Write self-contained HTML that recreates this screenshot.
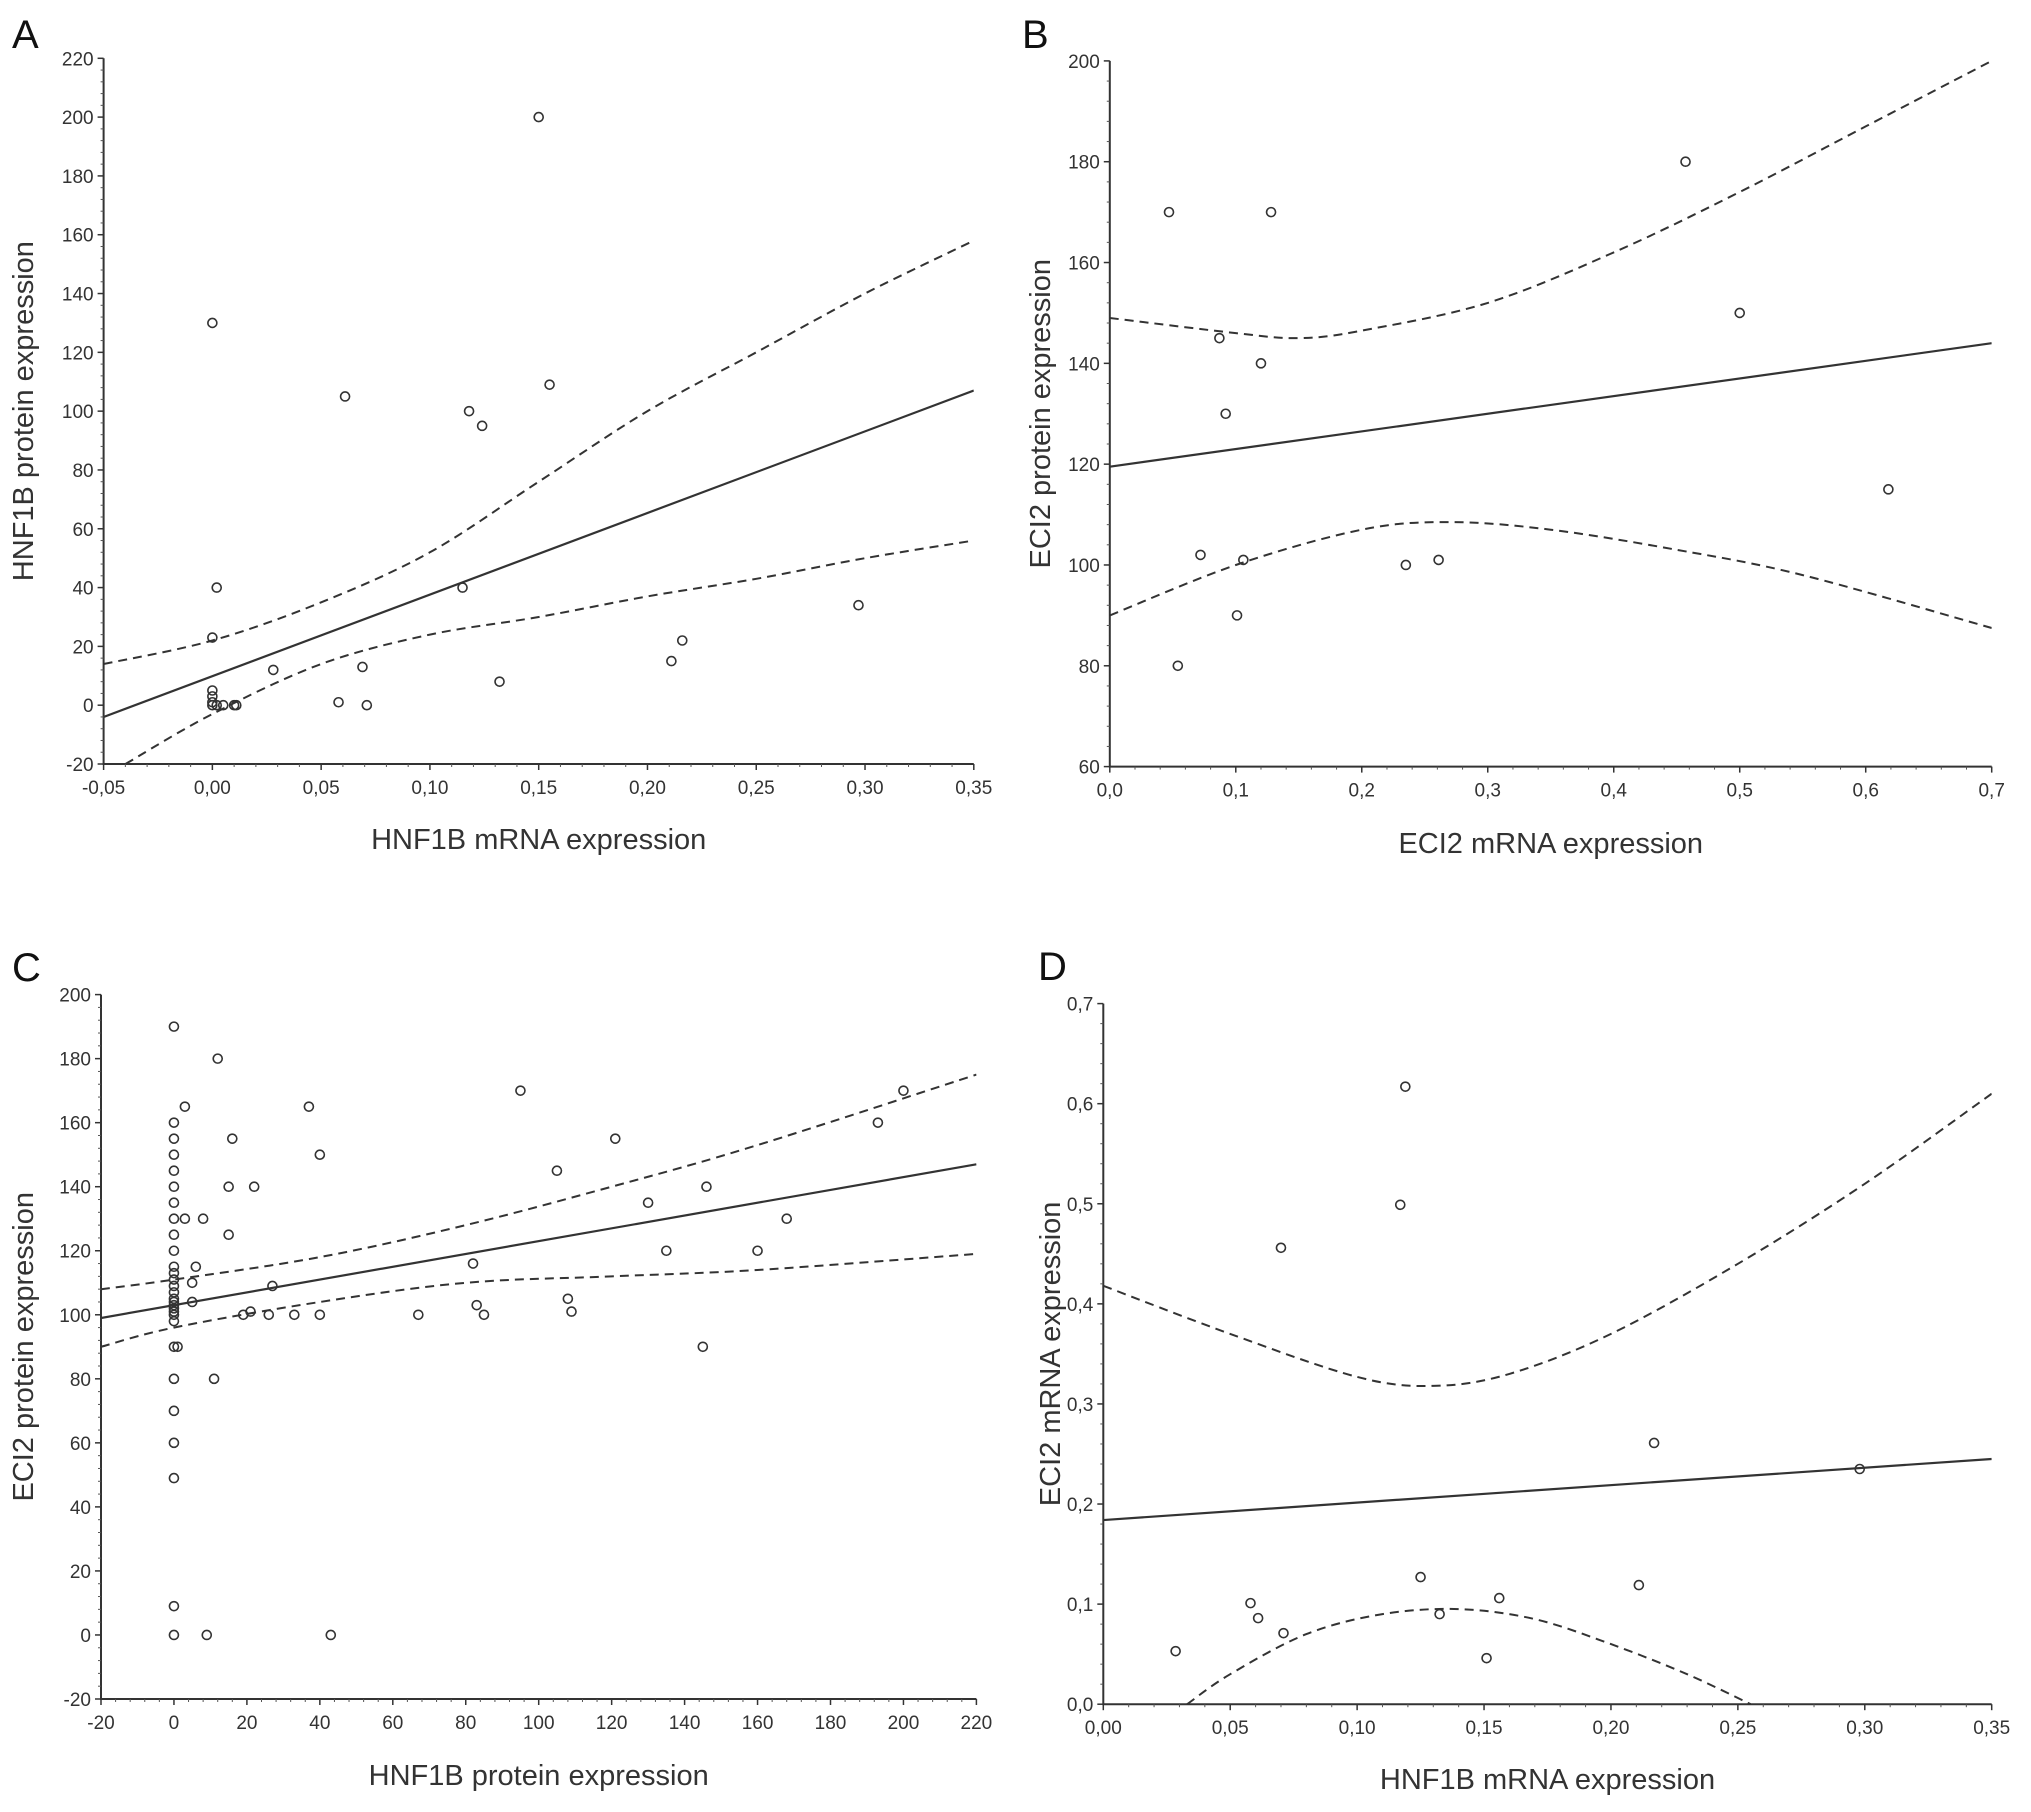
<!DOCTYPE html>
<html><head><meta charset="utf-8"><style>
html,body{margin:0;padding:0;background:#fff;}
svg{display:block;font-family:"Liberation Sans",sans-serif;}
</style></head><body>
<svg id="fig" width="2031" height="1812" viewBox="0 0 2031 1812"></svg>
<script>
// Panel A data
const aX=[0.15,0.0,0.061,0.155,0.118,0.124,0.115,0.002,0.0,0.028,0.069,0.058,0.071,0.132,0.211,0.216,0.297,0,0,0,0,0.002,0.005,0.01,0.011];
const aY=[200,130,105,109,100,95,40,40,23,12,13,1,0,8,15,22,34,5,3,1,0,0,0,0,0];
const aFit=[[-0.05,-4],[0.35,107]];
const aUpX=[-0.05,0,0.05,0.1,0.15,0.2,0.25,0.3,0.35];
const aUpY=[14,22,35,52,76,100,120,140,158];
const aLoX=[-0.04,0,0.05,0.1,0.15,0.2,0.25,0.3,0.35];
const aLoY=[-20,-3,14,24,30,37,43,50,56];
const aXTicks=["-0,05","0,00","0,05","0,10","0,15","0,20","0,25","0,30","0,35"];
const aYTicks=["-20","0","20","40","60","80","100","120","140","160","180","200","220"];
// Panel B data
const bX=[0.047,0.128,0.457,0.087,0.12,0.092,0.5,0.618,0.072,0.106,0.235,0.261,0.101,0.054];
const bY=[170,170,180,145,140,130,150,115,102,101,100,101,90,80];
const bFit=[[0,119.5],[0.7,144]];
const bUpX=[0,0.1,0.15,0.2,0.3,0.4,0.5,0.6,0.7];
const bUpY=[149,146,145,146.5,152,162,174,187,200];
const bLoX=[0,0.1,0.2,0.27,0.35,0.45,0.55,0.7];
const bLoY=[90,100,107,108.5,107,103,98,87.5];
const bXTicks=["0,0","0,1","0,2","0,3","0,4","0,5","0,6","0,7"];
const bYTicks=["60","80","100","120","140","160","180","200"];
// Panel C data
const cX=[0,0,0,0,0,0,0,0,0,0,0,0,0,0,0,0,0,0,0,0,0,0,0,0,0,0,0,0,0,1,12,3,8,3,16,15,15,6,5,5,11,9,22,37,40,27,19,21,26,33,40,43,67,82,83,85,95,105,108,109,121,130,135,146,145,160,168,193,200];
const cY=[190,160,155,150,145,140,135,130,125,120,115,113,111,109,107,105,104,103,102,101,100,98,90,80,70,60,49,9,0,90,180,165,130,130,155,140,125,115,110,104,80,0,140,165,150,109,100,101,100,100,100,0,100,116,103,100,170,145,105,101,155,135,120,140,90,120,130,160,170];
const cFit=[[-20,99],[220,147]];
const cUpX=[-20,0,40,80,120,160,220];
const cUpY=[108,111,118,128,140,153,175];
const cLoX=[-20,0,40,80,120,160,220];
const cLoY=[90,96,104,110,112,114,119];
const cXTicks=["-20","0","20","40","60","80","100","120","140","160","180","200","220"];
const cYTicks=["-20","0","20","40","60","80","100","120","140","160","180","200"];
// Panel D data
const dX=[0.0285,0.058,0.061,0.071,0.070,0.117,0.119,0.125,0.1325,0.151,0.156,0.211,0.217,0.298];
const dY=[0.053,0.101,0.086,0.071,0.456,0.499,0.617,0.127,0.090,0.046,0.106,0.119,0.261,0.235];
const dFit=[[0,0.184],[0.35,0.245]];
const dUpX=[0,0.05,0.1,0.13,0.16,0.2,0.25,0.3,0.35];
const dUpY=[0.418,0.37,0.327,0.318,0.33,0.37,0.44,0.52,0.61];
const dLoX=[0.033,0.05,0.08,0.11,0.14,0.17,0.2,0.23,0.255];
const dLoY=[0,0.03,0.07,0.09,0.095,0.085,0.06,0.03,0];
const dXTicks=["0,00","0,05","0,10","0,15","0,20","0,25","0,30","0,35"];
const dYTicks=["0,0","0,1","0,2","0,3","0,4","0,5","0,6","0,7"];

const NS="http://www.w3.org/2000/svg";
const svg=document.getElementById('fig');
function mk(tag,attrs,parent,text){const e=document.createElementNS(NS,tag);for(const k in attrs)e.setAttribute(k,attrs[k]);if(text!==undefined)e.textContent=text;parent.appendChild(e);return e;}
const num=s=>parseFloat(s.replace(',','.'));
function smooth(pts){
  let d='M'+pts[0][0].toFixed(1)+','+pts[0][1].toFixed(1);
  for(let i=0;i<pts.length-1;i++){
    const p0=pts[Math.max(0,i-1)],p1=pts[i],p2=pts[i+1],p3=pts[Math.min(pts.length-1,i+2)];
    const c1=[p1[0]+(p2[0]-p0[0])/6,p1[1]+(p2[1]-p0[1])/6];
    const c2=[p2[0]-(p3[0]-p1[0])/6,p2[1]-(p3[1]-p1[1])/6];
    d+=`C${c1[0].toFixed(1)},${c1[1].toFixed(1)} ${c2[0].toFixed(1)},${c2[1].toFixed(1)} ${p2[0].toFixed(1)},${p2[1].toFixed(1)}`;
  }
  return d;
}

function panel(cfg){
  const g=mk('g',{},svg);
  
  
  const xmin=num(cfg.xt[0]),xmax=num(cfg.xt[cfg.xt.length-1]);
  const ymin=num(cfg.yt[0]),ymax=num(cfg.yt[cfg.yt.length-1]);
  const sx=v=>cfg.x0+(v-xmin)/(xmax-xmin)*(cfg.x1-cfg.x0);
  const sy=v=>cfg.y0-(v-ymin)/(ymax-ymin)*(cfg.y0-cfg.y1);
  const ax=mk('path',{d:`M${cfg.x0},${cfg.y1}V${cfg.y0}H${cfg.x1}`,fill:'none',stroke:'#333','stroke-width':2},g);
  
  
  cfg.xt.forEach((t,i)=>{
    const x=sx(num(t));
    mk('line',{x1:x,x2:x,y1:cfg.y0,y2:cfg.y0+6,stroke:'#333','stroke-width':1.5},g);
    if(i<cfg.xt.length-1){for(let k=1;k<5;k++){const xm=sx(num(t)+(num(cfg.xt[i+1])-num(t))*k/5);mk('line',{x1:xm,x2:xm,y1:cfg.y0,y2:cfg.y0+3,stroke:'#555','stroke-width':1},g);}}
    const tl=mk('text',{x:x,y:cfg.y0+30,'text-anchor':'middle','font-size':19,fill:'#333'},g,t);
    
    
  });
  cfg.yt.forEach((t,i)=>{
    const y=sy(num(t));
    mk('line',{x1:cfg.x0-6,x2:cfg.x0,y1:y,y2:y,stroke:'#333','stroke-width':1.5},g);
    if(i<cfg.yt.length-1){for(let k=1;k<5;k++){const ym=sy(num(t)+(num(cfg.yt[i+1])-num(t))*k/5);mk('line',{x1:cfg.x0-3,x2:cfg.x0,y1:ym,y2:ym,stroke:'#555','stroke-width':1},g);}}
    const tl=mk('text',{x:cfg.x0-10,y:y+7,'text-anchor':'end','font-size':19,fill:'#333'},g,t);
    
    
  });
  const xt=mk('text',{x:(cfg.x0+cfg.x1)/2,y:cfg.xTitleY,'text-anchor':'middle','font-size':29,fill:'#333'},g,cfg.xTitle);
  
  
  const ty=(cfg.y0+cfg.y1)/2;
  const yt=mk('text',{x:cfg.yTitleX,y:ty,'text-anchor':'middle','font-size':29,fill:'#333',transform:`rotate(-90 ${cfg.yTitleX} ${ty})`},g,cfg.yTitle);
  
  
  const lt=mk('text',{x:cfg.lx,y:cfg.ly,'font-size':40,fill:'#111'},g,cfg.letter);
  
  
  const cid='clip'+cfg.letter;
  const cp=mk('clipPath',{id:cid},g);
  mk('rect',{x:cfg.x0,y:cfg.y1,width:cfg.x1-cfg.x0,height:cfg.y0-cfg.y1},cp);
  const pg=mk('g',{'clip-path':`url(#${cid})`},g);
  const band=(xs,ys,nm)=>{
    const d=smooth(xs.map((v,i)=>[sx(v),sy(ys[i])]));
    const p=mk('path',{d:d,fill:'none',stroke:'#333','stroke-width':2,'stroke-dasharray':'9,6','stroke-linejoin':'round'},pg);
    
    
  };
  band(cfg.ux,cfg.uy,'upper-confidence-band');
  band(cfg.lx2,cfg.ly2,'lower-confidence-band');
  const f=mk('line',{x1:sx(cfg.fit[0][0]),y1:sy(cfg.fit[0][1]),x2:sx(cfg.fit[1][0]),y2:sy(cfg.fit[1][1]),stroke:'#333','stroke-width':2.2},pg);
  
  
  cfg.px.forEach((v,i)=>{
    const c=mk('circle',{cx:sx(v),cy:sy(cfg.py[i]),r:4.5,fill:'none',stroke:'#333','stroke-width':1.6},g);
    
    
  });
}
panel({name:'panel-a',letter:'A',lx:12,ly:48,x0:103.6,x1:973.8,y0:764,y1:58.3,xt:aXTicks,yt:aYTicks,px:aX,py:aY,fit:aFit,ux:aUpX,uy:aUpY,lx2:aLoX,ly2:aLoY,xTitle:'HNF1B mRNA expression',xTitleY:849,yTitle:'HNF1B protein expression',yTitleX:33});
panel({name:'panel-b',letter:'B',lx:1022,ly:48,x0:1109.8,x1:1991.7,y0:766.6,y1:60.9,xt:bXTicks,yt:bYTicks,px:bX,py:bY,fit:bFit,ux:bUpX,uy:bUpY,lx2:bLoX,ly2:bLoY,xTitle:'ECI2 mRNA expression',xTitleY:853,yTitle:'ECI2 protein expression',yTitleX:1050});
panel({name:'panel-c',letter:'C',lx:12,ly:981,x0:101,x1:976.4,y0:1699,y1:994.6,xt:cXTicks,yt:cYTicks,px:cX,py:cY,fit:cFit,ux:cUpX,uy:cUpY,lx2:cLoX,ly2:cLoY,xTitle:'HNF1B protein expression',xTitleY:1785,yTitle:'ECI2 protein expression',yTitleX:33});
panel({name:'panel-d',letter:'D',lx:1038,ly:980,x0:1103.3,x1:1991.7,y0:1704.2,y1:1003.6,xt:dXTicks,yt:dYTicks,px:dX,py:dY,fit:dFit,ux:dUpX,uy:dUpY,lx2:dLoX,ly2:dLoY,xTitle:'HNF1B mRNA expression',xTitleY:1789,yTitle:'ECI2 mRNA expression',yTitleX:1060});
</script>
</body></html>
